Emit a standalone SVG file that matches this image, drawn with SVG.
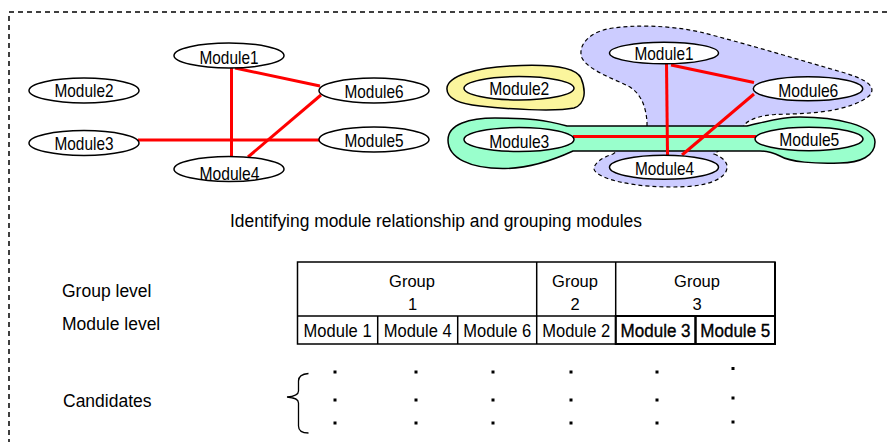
<svg xmlns="http://www.w3.org/2000/svg" width="890" height="442" viewBox="0 0 890 442">
<style>
  text { font-family: "Liberation Sans", Arial, Helvetica, sans-serif; fill: #000; }
  .node ellipse { fill: #fff; stroke: #000; stroke-width: 1.5; }
  .nt { font-size: 18.5px; text-anchor: middle; }
  .edge { stroke: #ff0000; stroke-width: 3; fill: none; }
  .lab { font-size: 17.5px; }
  .cell { fill: none; stroke: #000; stroke-width: 1.5; }
  .thick { fill: none; stroke: #000; stroke-width: 2; }
  .ct { font-size: 17.5px; text-anchor: middle; }
  .emph { stroke: #000; stroke-width: 0.35; }
  .gt { font-size: 16.5px; text-anchor: middle; }
  .dot { fill: #000; }
</style>

<!-- outer dashed frame -->
<rect x="9" y="12" width="900" height="450" fill="none" stroke="#000" stroke-width="1.5" stroke-dasharray="5,4"/>

<!-- ===== Left graph ===== -->
<g id="left-connectors">
  <line class="edge" x1="231.5" y1="66" x2="231.5" y2="157"/>
  <line class="edge" x1="235" y1="68" x2="320" y2="86"/>
  <line class="edge" x1="321" y1="95" x2="248" y2="157"/>
  <line class="edge" x1="138" y1="140" x2="320" y2="140"/>
</g>
<g id="L-module1" class="node"><ellipse cx="229" cy="55.5" rx="55" ry="12.5"/><text class="nt" x="229" y="63.5" textLength="59" lengthAdjust="spacingAndGlyphs">Module1</text></g>
<g id="L-module2" class="node"><ellipse cx="84" cy="90.5" rx="55" ry="12.5"/><text class="nt" x="84" y="97" textLength="59" lengthAdjust="spacingAndGlyphs">Module2</text></g>
<g id="L-module3" class="node"><ellipse cx="84" cy="143" rx="55" ry="12.5"/><text class="nt" x="84" y="150" textLength="59" lengthAdjust="spacingAndGlyphs">Module3</text></g>
<g id="L-module6" class="node"><ellipse cx="374" cy="90.5" rx="55" ry="12.5"/><text class="nt" x="374" y="97.5" textLength="59" lengthAdjust="spacingAndGlyphs">Module6</text></g>
<g id="L-module5" class="node"><ellipse cx="374" cy="139.5" rx="55" ry="12.5"/><text class="nt" x="374" y="147" textLength="59" lengthAdjust="spacingAndGlyphs">Module5</text></g>
<g id="L-module4" class="node"><ellipse cx="229" cy="169" rx="55" ry="12.5"/><text class="nt" x="229.5" y="180" textLength="60" lengthAdjust="spacingAndGlyphs">Module4</text></g>

<!-- ===== Right graph: group regions ===== -->
<g id="group1-region">
  <path d="M647,140 L647,122 C646,108 642,95 630,87 C612,78 588,70 582,58 C577,45 590,31 613,28 C635,25 668,25 700,32 C740,42 800,60 845,73 C868,80 876,87 870,95 C862,103 845,108 828,111 C808,114 788,114 775,114.5 C762,115.5 752,118 745,124 L735,140 L714,154 C722,157 728,162 727,168 C726,178 710,185 688,186.5 C662,188 638,186 620,182 C602,178 593,172 594,168 C595,163 601,158 613,154 L632,140 Z" fill="#ccccff" stroke="#000" stroke-width="1.2" stroke-dasharray="4,3"/>
</g>
<g id="group2-region">
  <path d="M447,88 C448,76 475,68 510,66 C545,64 575,66 581,78 C586,90 586,104 574,108 C555,112 505,109 480,106 C460,104 446,99 447,88 Z" fill="#fbf59d" stroke="#000" stroke-width="1.5"/>
</g>
<g id="group3-region">
  <path d="M448,140 C448,124 470,118 495,118 C530,118 545,120 567,126 L747,126 C765,122 780,117 800,117 C835,117 875,125 875,142 C875,156 860,163 840,163 C815,164 790,162 780,156 C772,152 765,151 760,151 L573,151 C560,157 535,168 505,168.5 C470,169 448,158 448,140 Z" fill="#99ffcc" stroke="#000" stroke-width="1.5"/>
</g>

<g id="right-connectors">
  <line class="edge" x1="666.5" y1="63" x2="667.5" y2="155"/>
  <line class="edge" x1="671" y1="65" x2="754" y2="82.5"/>
  <line class="edge" x1="754" y1="94" x2="682" y2="155"/>
  <line class="edge" x1="573" y1="136.5" x2="756" y2="136.5"/>
</g>
<g id="R-module1" class="node"><ellipse cx="664" cy="53" rx="54.5" ry="10.8"/><text class="nt" x="664" y="60" textLength="59" lengthAdjust="spacingAndGlyphs">Module1</text></g>
<g id="R-module2" class="node"><ellipse cx="519" cy="88.3" rx="55" ry="11.7"/><text class="nt" x="519.3" y="95" textLength="60" lengthAdjust="spacingAndGlyphs">Module2</text></g>
<g id="R-module3" class="node"><ellipse cx="519" cy="139.5" rx="55" ry="12"/><text class="nt" x="519.3" y="147.5" textLength="60" lengthAdjust="spacingAndGlyphs">Module3</text></g>
<g id="R-module6" class="node"><ellipse cx="808" cy="88.7" rx="54.7" ry="12"/><text class="nt" x="808.3" y="96.5" textLength="60" lengthAdjust="spacingAndGlyphs">Module6</text></g>
<g id="R-module5" class="node"><ellipse cx="809" cy="139" rx="54" ry="11.7"/><text class="nt" x="809.3" y="146" textLength="60" lengthAdjust="spacingAndGlyphs">Module5</text></g>
<g id="R-module4" class="node"><ellipse cx="664" cy="167.2" rx="54.5" ry="12"/><text class="nt" x="664.5" y="175" textLength="59" lengthAdjust="spacingAndGlyphs">Module4</text></g>

<!-- caption -->
<text x="230" y="227" font-size="18" textLength="412" lengthAdjust="spacingAndGlyphs">Identifying module relationship and grouping modules</text>

<!-- ===== Table ===== -->
<g id="row-labels">
  <text class="lab" x="62" y="297">Group level</text>
  <text class="lab" x="62" y="330">Module level</text>
  <text class="lab" x="63" y="407">Candidates</text>
</g>
<g id="table">
  <rect class="cell" x="297.5" y="262" width="477.5" height="82"/>
  <line class="cell" x1="297.5" y1="316" x2="775" y2="316"/>
  <line class="cell" x1="536.7" y1="262" x2="536.7" y2="344"/>
  <line class="cell" x1="615.7" y1="262" x2="615.7" y2="344"/>
  <line class="cell" x1="377.7" y1="316" x2="377.7" y2="344"/>
  <line class="cell" x1="457.7" y1="316" x2="457.7" y2="344"/>
  <!-- module 3 / module 5 cells emphasised -->
  <rect class="thick" x="615.7" y="316" width="79.8" height="28"/>
  <rect class="thick" x="695.5" y="316" width="79.5" height="28"/>
  <line class="thick" x1="775" y1="262" x2="775" y2="344"/>

  <text class="gt" x="412" y="287">Group</text>
  <text class="gt" x="412.5" y="309.5">1</text>
  <text class="gt" x="575" y="287">Group</text>
  <text class="gt" x="575" y="309.5">2</text>
  <text class="gt" x="697" y="287">Group</text>
  <text class="gt" x="697" y="309.5">3</text>

  <text class="ct" x="337.6" y="336.5" textLength="68" lengthAdjust="spacingAndGlyphs">Module 1</text>
  <text class="ct" x="417.7" y="336.5" textLength="68" lengthAdjust="spacingAndGlyphs">Module 4</text>
  <text class="ct" x="497.2" y="336.5" textLength="68" lengthAdjust="spacingAndGlyphs">Module 6</text>
  <text class="ct" x="576.2" y="336.5" textLength="68" lengthAdjust="spacingAndGlyphs" fill="#222">Module 2</text>
  <text class="ct emph" x="655.6" y="336.5" textLength="70" lengthAdjust="spacingAndGlyphs">Module 3</text>
  <text class="ct emph" x="735.3" y="336.5" textLength="70" lengthAdjust="spacingAndGlyphs">Module 5</text>
</g>

<!-- brace -->
<path d="M308.5,373.5 C302,374 298.5,376 298.5,381 L298.5,391 C298.5,394.5 294,396.5 287,397 C294,397.5 298.5,399.5 298.5,403 L298.5,426 C298.5,431 302,433 308.5,433" fill="none" stroke="#000" stroke-width="1.3"/>

<!-- candidate dots -->
<g id="dots">
  <rect class="dot" x="333.5" y="370.5" width="3" height="3"/>
  <rect class="dot" x="333.5" y="398.5" width="3" height="3"/>
  <rect class="dot" x="333.5" y="421.5" width="3" height="3"/>
  <rect class="dot" x="414.5" y="370.5" width="3" height="3"/>
  <rect class="dot" x="414.5" y="398.5" width="3" height="3"/>
  <rect class="dot" x="414.5" y="421.5" width="3" height="3"/>
  <rect class="dot" x="491.5" y="370.5" width="3" height="3"/>
  <rect class="dot" x="491.5" y="398.5" width="3" height="3"/>
  <rect class="dot" x="491.5" y="421.5" width="3" height="3"/>
  <rect class="dot" x="569.5" y="370.5" width="3" height="3"/>
  <rect class="dot" x="569.5" y="398.5" width="3" height="3"/>
  <rect class="dot" x="569.5" y="421.5" width="3" height="3"/>
  <rect class="dot" x="655.5" y="370.5" width="3" height="3"/>
  <rect class="dot" x="655.5" y="398.5" width="3" height="3"/>
  <rect class="dot" x="655.5" y="421.5" width="3" height="3"/>
  <rect class="dot" x="731.5" y="367" width="3" height="3"/>
  <rect class="dot" x="731.5" y="396.5" width="3" height="3"/>
  <rect class="dot" x="731.5" y="420.5" width="3" height="3"/>
</g>
</svg>
